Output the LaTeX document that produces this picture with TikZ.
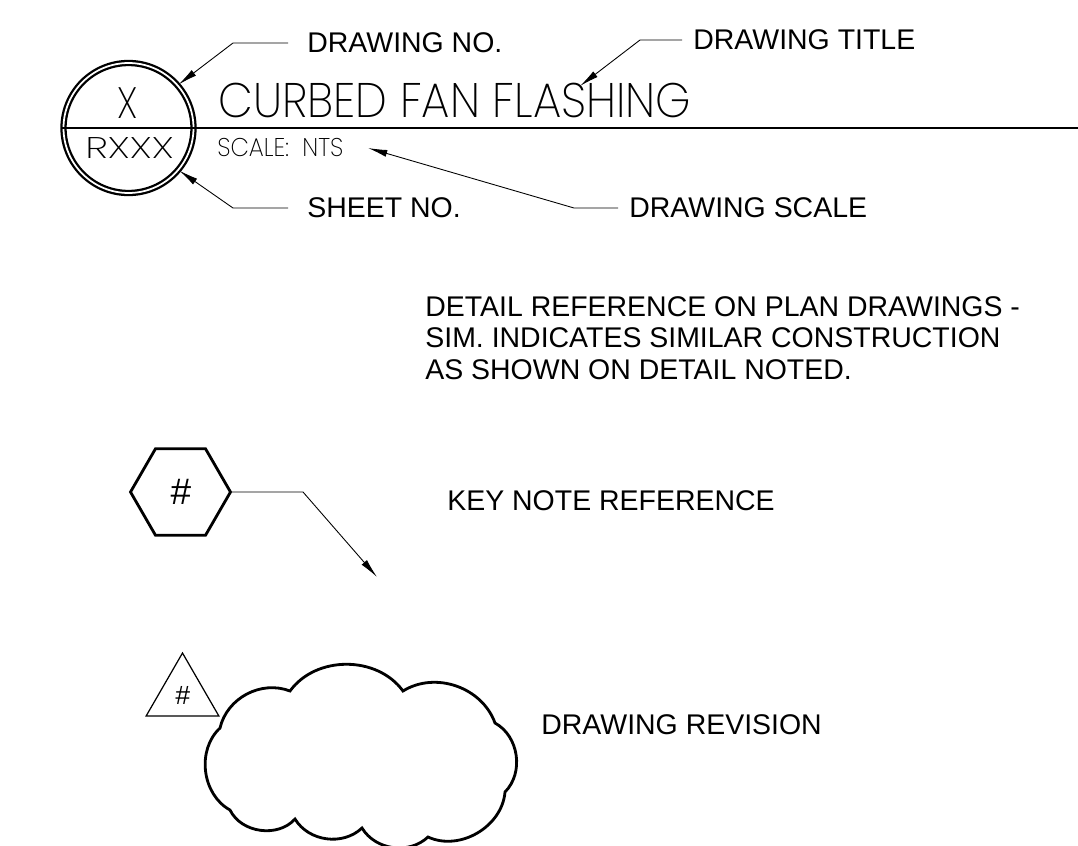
\documentclass[tikz,border=0pt]{standalone}
\usepackage{fontspec}
\setmainfont{Liberation Sans}
\newfontfamily\titlefont{Poppins ExtraLight}[FakeStretch=0.93]
\newfontfamily\numfont{Poppins ExtraLight}[FakeStretch=0.85]
\newfontfamily\sheetfont{Poppins ExtraLight}[FakeStretch=1.35]
\usetikzlibrary{shapes.geometric,arrows.meta}

\begin{document}
\begin{tikzpicture}[x=0.02cm, y=-0.02cm,
    every node/.style={inner sep=0pt},
    label/.style={anchor=west, font=\fontsize{16.2}{17.9}\selectfont},
    leader/.style={line width=0.5pt, -{Latex[length=11pt,width=4pt]}},
    heavy/.style={line width=1.6pt}]
  \useasboundingbox (0,0) rectangle (1078,845);

  % detail bubble, title bar and scale
  \node[circle, draw, double, line width=1.3pt, double distance=1pt, minimum size=2.6cm] (bubble) at (128.5,128) {};
  \node[font=\numfont\fontsize{25}{25}\selectfont] (dwgnum) at (128,103) {X};
  \node[font=\sheetfont\fontsize{17}{17}\selectfont] (sheetnum) at (129.5,148) {RXXX};
  \draw[heavy] (bubble.west) -- (1078,128);
  \node[anchor=west, font=\titlefont\fontsize{27.6}{27.6}\selectfont] (title) at (218,100) {CURBED FAN FLASHING};
  \node[anchor=west, font=\titlefont\fontsize{14.6}{14.6}\selectfont] (scale) at (217,147) {SCALE:\ \ NTS};

  % callouts
  \node[label] (lblno) at (307,43) {DRAWING NO.};
  \node[label] (lblsheet) at (307,208) {SHEET NO.};
  \node[label] (lbltitle) at (693,40) {DRAWING TITLE};
  \node[label] (lblscale) at (629,208) {DRAWING SCALE};
  \coordinate (titletip) at (580,86);
  \coordinate (scaletip) at (368,148);
  \draw[leader] (lblno.west) ++(-19,0) -- ++(-55,0) -- (bubble.41);
  \draw[leader] (lblsheet.west) ++(-19,0) -- ++(-55,0) -- (bubble.-40);
  \draw[leader] (lbltitle.west) ++(-11,0) -- ++(-42,0) -- (titletip);
  \draw[leader] (lblscale.west) ++(-11,0) -- ++(-44,0) -- (scaletip);

  \node[label, align=left] (lbldetail) at (425,338) {DETAIL REFERENCE ON PLAN DRAWINGS -\\SIM. INDICATES SIMILAR CONSTRUCTION\\AS SHOWN ON DETAIL NOTED.};

  % key note
  \node[regular polygon, regular polygon sides=6, draw, heavy, minimum size=2cm, font=\itshape\fontsize{21}{21}\selectfont] (keynote) at (180.5,492) {\#};
  \coordinate (keybend) at (303,492);
  \coordinate (keytip) at (377,577);
  \draw[leader] (keynote.0) -- (keybend) -- (keytip);
  \node[label] (lblkey) at (447,501) {KEY NOTE REFERENCE};

  % revision delta and cloud
  \node[regular polygon, regular polygon sides=3, draw, line width=0.7pt, minimum size=1.68cm, font=\itshape\fontsize{15}{15}\selectfont] (rev) at (182.5,695) {\#};
  \draw[heavy] (220,728) to[bend left=49] (290,691) to[bend left=54] (403,691)
    to[bend left=51] (495,723) to[bend left=53] (505,792) to[bend left=55] (428,837)
    to[bend left=51] (362,828) to[bend left=51] (295,819) to[bend left=56] (230,810)
    to[bend left=54] (220,728) -- cycle;
  \node[label] (lblrev) at (541,725) {DRAWING REVISION};
\end{tikzpicture}
\end{document}
